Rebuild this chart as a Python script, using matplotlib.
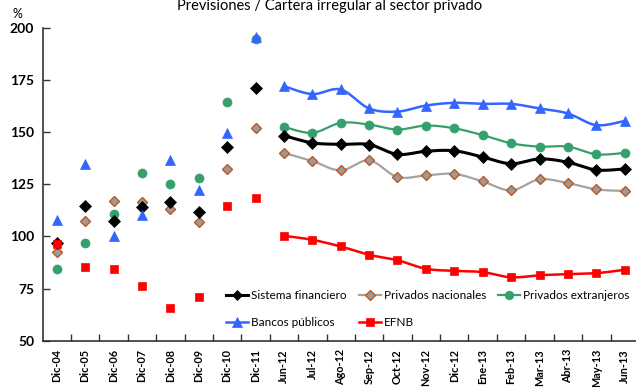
import numpy as np
import matplotlib
matplotlib.use("Agg")
import matplotlib.pyplot as plt
from matplotlib.lines import Line2D

plt.rcParams['font.family'] = ['Lato', 'DejaVu Sans']

categories = ["Dic-04", "Dic-05", "Dic-06", "Dic-07", "Dic-08", "Dic-09", "Dic-10",
              "Dic-11", "Jun-12", "Jul-12", "Ago-12", "Sep-12", "Oct-12", "Nov-12",
              "Dic-12", "Ene-13", "Feb-13", "Mar-13", "Abr-13", "May-13", "Jun-13"]

# Year-end values (Dic-04 .. Dic-11), shown as markers only
sistema_anual = [96.8, 114.8, 107.4, 114.1, 116.3, 111.5, 142.8, 171.2]
nacionales_anual = [92.5, 107.2, 117.0, 116.7, 113.3, 107.1, 132.2, 151.9]
extranjeros_anual = [84.6, 97.0, 110.9, 130.6, 125.0, 128.2, 164.6, 194.6]
publicos_anual = [108.0, 134.6, 100.3, 110.4, 136.5, 122.1, 149.4, 195.8]
efnb_anual = [96.5, 85.3, 84.5, 76.3, 65.7, 71.2, 114.8, 118.4]

# Monthly values (Jun-12 .. Jun-13), joined by a smoothed line
sistema_mes = [148.4, 144.9, 144.2, 144.1, 139.4, 140.9, 141.1, 138.1, 134.9, 137.2,
               135.6, 131.9, 132.4]
nacionales_mes = [140.1, 136.2, 131.7, 136.5, 128.5, 129.3, 130.0, 126.4, 122.1, 127.4,
                  125.6, 122.6, 121.8]
extranjeros_mes = [152.6, 149.7, 154.5, 153.7, 151.3, 153.2, 151.9, 148.6, 144.7, 143.1,
                   143.1, 139.4, 140.1]
publicos_mes = [172.1, 168.3, 170.5, 161.4, 159.9, 162.8, 164.1, 163.6, 163.6, 161.4,
                159.0, 153.4, 155.4]
efnb_mes = [100.3, 98.4, 95.2, 91.2, 88.6, 84.5, 83.5, 82.9, 80.4, 81.4, 81.9, 82.4, 84.0]

y_ticks = [50, 75, 100, 125, 150, 175, 200]


def smooth(xs, ys, n=20):
    """Bezier smoothing through every point (Catmull-Rom style control points)."""
    p = np.column_stack([xs, ys]).astype(float)
    out = [p[0]]
    for i in range(len(p) - 1):
        p0 = p[i - 1] if i > 0 else p[i]
        p1, p2 = p[i], p[i + 1]
        p3 = p[i + 2] if i + 2 < len(p) else p[i + 1]
        c1 = p1 + (p2 - p0) / 6.0
        c2 = p2 - (p3 - p1) / 6.0
        t = np.linspace(0, 1, n)[1:, None]
        seg = ((1 - t) ** 3) * p1 + 3 * ((1 - t) ** 2) * t * c1 + 3 * (1 - t) * t ** 2 * c2 + t ** 3 * p2
        out.extend(seg)
    out = np.array(out)
    return out[:, 0], out[:, 1]


W, H = 636, 387
fig = plt.figure(figsize=(W / 100, H / 100), dpi=100)
left, right = 42.5, 638.9
top, bottom = 28.0, 340.7
ax = fig.add_axes([left / W, 1 - bottom / H, (right - left) / W, (bottom - top) / H])

n_year = len(sistema_anual)
x_year = np.arange(n_year)
x_month = np.arange(n_year, len(categories))

series = [
    # label, annual, monthly, line colour, lw, marker, ms, face, edge, zorder
    ("Privados nacionales", nacionales_anual, nacionales_mes, "#a3a3a3", 1.6, "D", 5.2, "#9a9a9a", "#c0581e", 3),
    ("Privados extranjeros", extranjeros_anual, extranjeros_mes, "#36a06c", 1.6, "o", 6.5, "#36a06c", "#36a06c", 4),
    ("Sistema financiero", sistema_anual, sistema_mes, "#000000", 2.2, "D", 5.8, "#000000", "#000000", 5),
    ("Bancos públicos", publicos_anual, publicos_mes, "#3366ff", 1.8, "^", 7.5, "#3366ff", "#3366ff", 6),
    ("EFNB", efnb_anual, efnb_mes, "#ff0000", 1.8, "s", 6.0, "#ff0000", "#ff0000", 7),
]

handles = {}
for label, ann, mes, color, lw, mk, ms, fc, ec, z in series:
    mew = 1.0 if label == "Privados nacionales" else 0.5
    ax.plot(x_year, ann, linestyle="none", marker=mk, ms=ms, mfc=fc, mec=ec, mew=mew, zorder=z)
    sx, sy = smooth(x_month, mes)
    ax.plot(sx, sy, color=color, lw=lw, solid_capstyle="round", zorder=z)
    ax.plot(x_month, mes, linestyle="none", marker=mk, ms=ms, mfc=fc, mec=ec, mew=mew, zorder=z)
    handles[label] = Line2D([], [], color=color, lw=lw, marker=mk, ms=ms * 0.95, mfc=fc, mec=ec, mew=mew)

order = ["Sistema financiero", "Bancos públicos", "Privados nacionales", "EFNB", "Privados extranjeros"]
ax.legend([handles[k] for k in order], order, ncol=3, frameon=False, fontsize=8.5,
          loc="upper left", bbox_to_anchor=((226 - left) / (right - left), (bottom - 290) / (bottom - top)),
          bbox_transform=ax.transAxes, handlelength=1.85, handletextpad=0.25,
          columnspacing=1.05, labelspacing=1.35, borderaxespad=0, borderpad=0)

ax.set_xlim(-0.5, len(categories) - 0.5)
ax.set_ylim(50, 200)
ax.set_yticks(y_ticks)
ax.set_yticklabels([str(v) for v in y_ticks], fontsize=10, fontweight="bold")
ax.set_xticks(np.arange(len(categories)))
ax.set_xticklabels(categories, rotation=90, fontsize=7.8, fontweight="bold", va="top")
ax.set_xticks(np.arange(len(categories)) + 0.5, minor=True)
ax.tick_params(axis="x", which="major", length=0, pad=6)
ax.tick_params(axis="x", which="minor", direction="in", length=5, width=1, color="#333333")
ax.tick_params(axis="y", direction="in", length=5, width=1, color="#333333", pad=6)

for s in ["top", "right"]:
    ax.spines[s].set_visible(False)
for s in ["left", "bottom"]:
    ax.spines[s].set_color("#333333")
    ax.spines[s].set_linewidth(1.2)

fig.text(17 / W, 1 - 14 / H, "%", fontsize=9, ha="center", va="center")
fig.text(330 / W, 1 - 6 / H, "Previsiones / Cartera irregular al sector privado",
         fontsize=10.5, ha="center", va="center")

fig.savefig("out.png", dpi=100)
